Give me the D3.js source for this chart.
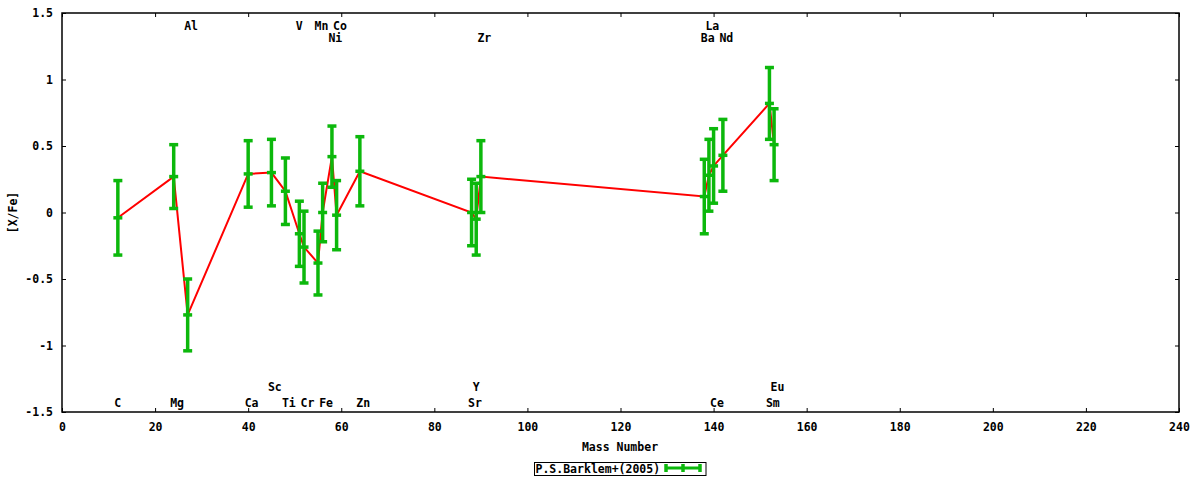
<!DOCTYPE html>
<html>
<head>
<meta charset="utf-8">
<script src="https://cdn.jsdelivr.net/npm/d3@7"></script>
<style>
    body { margin: 0; background: #fff; }
    text { font-family: "DejaVu Sans Mono", monospace; font-weight: bold; font-size: 11.5px; fill: #000; }
</style>
</head>
<body>
<div id="chart"></div>
<script>
// Abundance pattern [X/Fe] against mass number, gnuplot-like look

// element names, mass numbers, [X/Fe] and error
const elements = ['C', 'Mg', 'Al', 'Ca', 'Sc', 'Ti', 'V', 'Cr', 'Mn', 'Fe', 'Ni', 'Co', 'Zn',
                  'Sr', 'Y', 'Zr', 'Ba', 'La', 'Ce', 'Nd', 'Sm', 'Eu'];
const massNumbers = [12, 24, 27, 40, 45, 48, 51, 52, 55, 56, 58, 59, 64,
                     88, 89, 90, 138, 139, 140, 142, 152, 153];
const xFe = [-0.04, 0.27, -0.77, 0.29, 0.30, 0.16, -0.16, -0.26, -0.38, 0.00, 0.42, -0.02, 0.31,
             0.00, -0.05, 0.27, 0.12, 0.28, 0.35, 0.43, 0.82, 0.51];
const xFeErr = [0.28, 0.24, 0.27, 0.25, 0.25, 0.25, 0.245, 0.27, 0.24, 0.22, 0.23, 0.26, 0.26,
                0.25, 0.27, 0.27, 0.28, 0.27, 0.28, 0.27, 0.27, 0.27];
// label row for each element: 0/1 = top rows, 2/3 = bottom rows
const labelRows = [3, 3, 0, 3, 2, 3, 0, 3, 0, 3, 1, 0, 3,
                   3, 2, 1, 1, 0, 3, 1, 3, 2];

const xTicks = d3.range(0, 241, 20);
const yTicks = [-1.5, -1, -0.5, 0, 0.5, 1, 1.5];
const legendLabel = 'P.S.Barklem+(2005)';

const width = 1200;
const height = 480;
const margin = {left: 62, right: 21, top: 13, bottom: 68};
const green = '#0cb80c';

const svg = d3.select('#chart')
    .append('svg')
    .attr('width', width)
    .attr('height', height);

const x = d3.scaleLinear()
    .domain([0, 240])
    .range([margin.left, width - margin.right]);

const y = d3.scaleLinear()
    .domain([-1.5, 1.5])
    .range([height - margin.bottom, margin.top]);

const data = elements.map((name, i) => ({
    name: name,
    mass: massNumbers[i],
    value: xFe[i],
    err: xFeErr[i],
    row: labelRows[i]
}));

// Axes with inward ticks, mirrored on top and right
svg.append('g')
    .attr('transform', `translate(0,${y(-1.5)})`)
    .call(d3.axisBottom(x).tickValues(xTicks).tickSizeInner(-4).tickSizeOuter(0).tickPadding(11)
        .tickFormat(d => String(d)));

svg.append('g')
    .attr('transform', `translate(0,${y(1.5)})`)
    .call(d3.axisTop(x).tickValues(xTicks).tickSizeInner(-4).tickSizeOuter(0).tickFormat(''));

svg.append('g')
    .attr('transform', `translate(${x(0)},0)`)
    .call(d3.axisLeft(y).tickValues(yTicks).tickSizeInner(-4).tickSizeOuter(0).tickPadding(9)
        .tickFormat(d => String(d)));

svg.append('g')
    .attr('transform', `translate(${x(240)},0)`)
    .call(d3.axisRight(y).tickValues(yTicks).tickSizeInner(-4).tickSizeOuter(0).tickFormat(''));

svg.selectAll('.domain').remove();
svg.selectAll('.tick line').attr('stroke', '#000').attr('stroke-width', 1);
svg.selectAll('.tick text').attr('font-family', null).attr('font-size', null);

// Plot border
svg.append('rect')
    .attr('x', x(0))
    .attr('y', y(1.5))
    .attr('width', x(240) - x(0))
    .attr('height', y(-1.5) - y(1.5))
    .attr('fill', 'none')
    .attr('stroke', '#000')
    .attr('stroke-width', 1.5);

// Axis titles
svg.append('text')
    .attr('x', 620)
    .attr('y', 447)
    .attr('dy', '0.35em')
    .attr('text-anchor', 'middle')
    .text('Mass Number');

svg.append('text')
    .attr('transform', `translate(13,${y(0)}) rotate(-90)`)
    .attr('dy', '0.35em')
    .attr('text-anchor', 'middle')
    .text('[X/Fe]');

// Connecting line (under the error bars)
const line = d3.line()
    .x(d => x(d.mass))
    .y(d => y(d.value));

svg.append('path')
    .datum(data)
    .attr('d', line)
    .attr('fill', 'none')
    .attr('stroke', '#ff0000')
    .attr('stroke-width', 2);

// Error bars
const capW = 4.5;
const bars = svg.append('g')
    .attr('class', 'errorbars')
    .selectAll('g')
    .data(data)
    .enter()
    .append('g')
    .attr('stroke', green)
    .attr('stroke-width', 3.5);

bars.append('line')
    .attr('x1', d => x(d.mass))
    .attr('x2', d => x(d.mass))
    .attr('y1', d => y(d.value + d.err))
    .attr('y2', d => y(d.value - d.err));

[d => d.value + d.err, d => d.value, d => d.value - d.err].forEach(f => {
    bars.append('line')
        .attr('x1', d => x(d.mass) - capW)
        .attr('x2', d => x(d.mass) + capW)
        .attr('y1', d => y(f(d)))
        .attr('y2', d => y(f(d)));
});

// Element labels in two rows at the top and two at the bottom
const rowY = [26, 38, 387, 403];
svg.append('g')
    .attr('class', 'element-labels')
    .selectAll('text')
    .data(data)
    .enter()
    .append('text')
    .attr('x', d => x(d.mass) - 3.5)
    .attr('y', d => rowY[d.row])
    .attr('dy', '0.35em')
    .attr('text-anchor', 'start')
    .text(d => d.name);

// Legend
const legend = svg.append('g')
    .attr('class', 'legend');

legend.append('rect')
    .attr('x', 534.5)
    .attr('y', 462.5)
    .attr('width', 171.5)
    .attr('height', 13)
    .attr('fill', 'none')
    .attr('stroke', '#000')
    .attr('stroke-width', 1);

legend.append('text')
    .attr('x', 535.5)
    .attr('y', 469)
    .attr('dy', '0.35em')
    .text(legendLabel);

legend.append('line')
    .attr('x1', 666).attr('x2', 700)
    .attr('y1', 468).attr('y2', 468)
    .attr('stroke', green)
    .attr('stroke-width', 3);

[666, 683, 700].forEach(px => {
    legend.append('line')
        .attr('x1', px).attr('x2', px)
        .attr('y1', 464).attr('y2', 472)
        .attr('stroke', green)
        .attr('stroke-width', 3.5);
});
</script>
</body>
</html>
